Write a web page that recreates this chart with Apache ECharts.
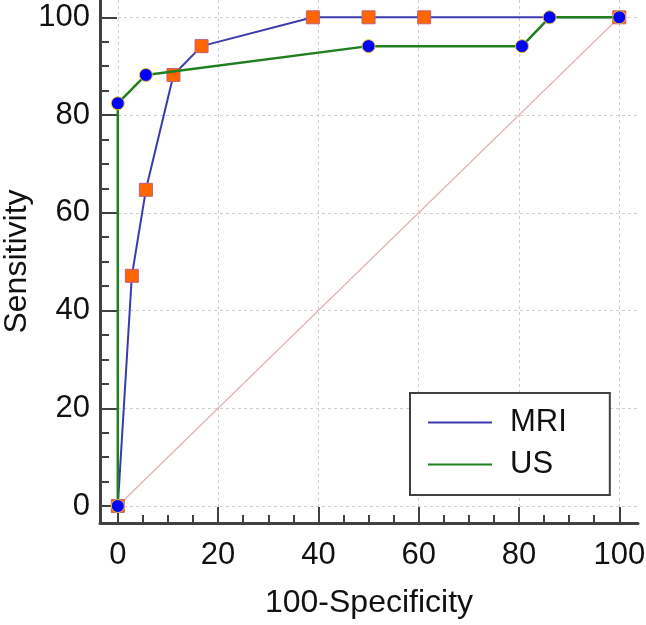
<!DOCTYPE html>
<html>
<head>
<meta charset="utf-8">
<script src="https://cdn.jsdelivr.net/npm/echarts@6/dist/echarts.min.js"></script>
<style>
  html, body { margin: 0; padding: 0; background: #fff; }
  #chart { width: 646px; height: 625px; }
</style>
</head>
<body>
<div id="chart"></div>
<script>
// ROC points: x = 100 - specificity, y = sensitivity
const mriX = [0, 2.8, 5.6, 11.1, 16.7, 38.9, 50, 61.1, 100]
const mriY = [0, 47.1, 64.7, 88.2, 94.1, 100, 100, 100, 100]
const usX = [0, 0, 5.6, 50, 80.6, 86.1, 100]
const usY = [0, 82.4, 88.2, 94.1, 94.1, 100, 100]
const chanceX = [0, 100]
const chanceY = [0, 100]

const majorTicks = [0, 20, 40, 60, 80, 100]
const minorTicks = [5, 10, 15, 25, 30, 35, 45, 50, 55, 65, 70, 75, 85, 90, 95]

const font = 'Liberation Sans, Arial, sans-serif'
const axisColor = '#404040'

function pairs(xs, ys) {
  return xs.map((x, i) => [x, ys[i]])
}

const chart = echarts.init(document.getElementById('chart'))

function mainAxis(opts) {
  return Object.assign({
    type: 'value',
    min: opts.min,
    max: opts.max,
    axisLine: { show: true, onZero: false, lineStyle: { color: axisColor, width: 3 } },
    axisTick: {
      show: true,
      inside: true,
      length: opts.tickLen,
      customValues: majorTicks,
      lineStyle: { color: axisColor, width: 2 }
    },
    axisLabel: {
      customValues: majorTicks,
      color: '#111',
      fontSize: 31,
      fontFamily: font,
      margin: opts.labelMargin
    },
    splitLine: {
      show: true,
      lineStyle: { color: '#cfcfcf', width: 1, type: [3, 3] }
    },
    minorTick: { show: false },
    nameLocation: 'middle',
    nameMoveOverlap: false,
    nameTextStyle: { color: '#111', fontSize: 32, fontFamily: font }
  }, opts.extra)
}

function minorAxis(opts) {
  return {
    type: 'value',
    min: opts.min,
    max: opts.max,
    position: opts.position,
    axisLine: { show: false, onZero: false },
    axisTick: {
      show: true,
      inside: true,
      length: opts.tickLen,
      customValues: minorTicks,
      lineStyle: { color: axisColor, width: 2 }
    },
    axisLabel: { show: false },
    splitLine: { show: false }
  }
}

const option = {
  animation: false,
  backgroundColor: '#fff',
  grid: { left: 100, right: 8, top: 0, bottom: 102, containLabel: false, outerBoundsMode: 'none' },
  xAxis: [
    mainAxis({ min: -3.55, max: 103.73, tickLen: 16, labelMargin: 17,
      extra: { position: 'bottom', name: '100-Specificity', nameGap: 64 } }),
    minorAxis({ min: -3.55, max: 103.73, tickLen: 8, position: 'bottom' })
  ],
  yAxis: [
    mainAxis({ min: -3.48, max: 103.54, tickLen: 17, labelMargin: 10,
      extra: { position: 'left', name: 'Sensitivity', nameGap: 67 } }),
    minorAxis({ min: -3.48, max: 103.54, tickLen: 9, position: 'left' })
  ],
  legend: {
    orient: 'vertical',
    left: 410,
    top: 393,
    padding: [14, 43, 15, 18],
    borderColor: axisColor,
    borderWidth: 2,
    backgroundColor: '#fff',
    itemWidth: 64,
    itemHeight: 2,
    itemGap: 11,
    textStyle: { color: '#111', fontSize: 31, fontFamily: font, padding: [0, 0, 0, 13] },
    data: [
      { name: 'MRI', icon: 'rect', itemStyle: { color: '#3b3baf', borderWidth: 0 } },
      { name: 'US', icon: 'rect', itemStyle: { color: '#1f7f1f', borderWidth: 0 } }
    ]
  },
  series: [
    {
      name: 'Chance',
      type: 'line',
      data: pairs(chanceX, chanceY),
      showSymbol: false,
      silent: true,
      lineStyle: { color: '#e2b0b0', width: 1.2 },
      z: 1
    },
    {
      name: 'MRI',
      type: 'line',
      data: pairs(mriX, mriY),
      symbol: 'rect',
      symbolSize: 13,
      clip: false,
      lineStyle: { color: '#3b3baf', width: 2 },
      itemStyle: { color: '#ff6600', borderColor: '#c0607a', borderWidth: 1 },
      z: 3
    },
    {
      name: 'US',
      type: 'line',
      data: pairs(usX, usY),
      symbol: 'circle',
      symbolSize: 13,
      clip: false,
      lineStyle: { color: '#1f7f1f', width: 2.5 },
      itemStyle: { color: '#0000ff', borderColor: '#f2c230', borderWidth: 1 },
      z: 4
    }
  ]
}

chart.setOption(option)
window.addEventListener('resize', () => chart.resize())
</script>
</body>
</html>
